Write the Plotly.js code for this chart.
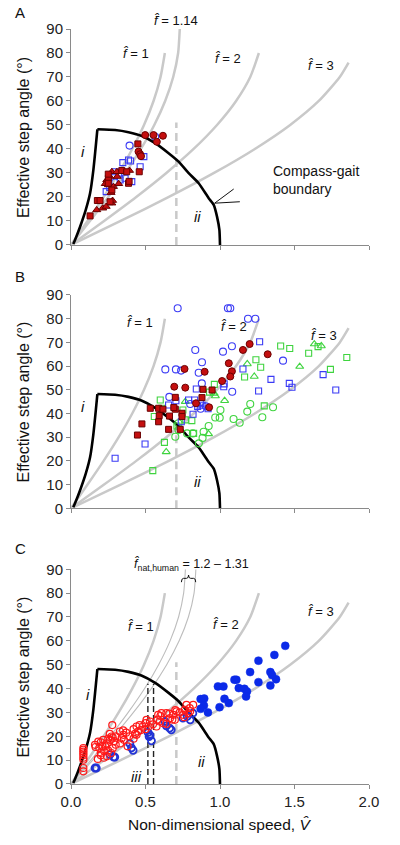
<!DOCTYPE html>
<html><head><meta charset="utf-8">
<script src="https://cdn.plot.ly/plotly-3.0.1.min.js"></script>
<style>html,body{margin:0;padding:0;background:#fff}#chart{width:400px;height:845px}</style>
</head><body><div id="chart"></div>
<script>
// ---- reference curves ----
const ang80 = [0,10,20,30,40,50,60,70,80];
const ang90 = [0,10,20,30,40,50,60,70,80,90];
const ang76 = [0,10,20,30,40,50,60,70,76];
const f1V   = [0,0.111,0.219,0.32,0.411,0.49,0.554,0.601,0.630];
const f114V = [0,0.127,0.250,0.365,0.469,0.559,0.632,0.686,0.719,0.730];
const f12V  = [0,0.133,0.263,0.384,0.494,0.588,0.665,0.722,0.756,0.768];
const f131V = [0,0.146,0.287,0.419,0.539,0.642,0.726,0.788,0.826,0.838];
const f2V   = [0,0.222,0.438,0.64,0.823,0.980,1.108,1.203,1.261];
const f3V   = [0,0.333,0.657,0.96,1.234,1.471,1.663,1.804,1.863];
// boundary i (left branch) and ii (compass-gait arc)
const boundIV = [0.015,0.027,0.061,0.099,0.128,0.150,0.166,0.177];
const boundIT = [0.4,2.1,7.6,14.6,21.5,31.2,41.0,48.2];
const boundIIV = [0.177,0.296,0.386,0.476,0.565,0.655,0.722,0.790,0.857,0.924,0.958,0.980,0.996,1.0];
const boundIIT = [48.2,47.9,47.0,45.4,42.4,38.2,34.7,29.9,25.7,19.5,16.7,11.8,6.25,0];
const dashV = [0.707,0.707];
const dashA = [0,51];
const dashB = [0,36];
const dashC = [0,51];
const blackDash1V = [0.516,0.516];
const blackDash2V = [0.554,0.554];
const blackDashT = [0,42];

// ---- Panel A data ----
const A_redCircleV = [0.498,0.554,0.576,0.617,0.453,0.464,0.470];
const A_redCircleT = [45.8,45.8,43.0,45.5,38.9,37.8,37.0];
const A_redSquareV = [0.449,0.458,0.386,0.390,0.128,0.177,0.195,0.262,0.251,0.250,0.274,0.341,0.374,0.250];
const A_redSquareT = [42.1,30.5,25.7,26.5,12.1,18.5,18.5,18.0,27.8,25.7,22.9,31.0,30.5,29.5];
const A_redTriV = [0.173,0.213,0.236,0.274,0.279,0.274,0.308,0.359,0.393,0.240,0.251,0.285,0.269,0.310,0.320,0.230,0.260];
const A_redTriT = [14.6,15.3,16.0,17.4,18.5,30.5,30.5,30.5,31.0,27.1,25.0,24.3,21.8,28.5,25.5,25.5,28.5];
const A_blueCircleV = [0.393,0.565,0.296];
const A_blueCircleT = [41.4,45.1,26.0];
const A_blueSquareV = [0.348,0.386,0.400,0.489,0.464,0.296,0.330,0.363,0.408,0.236,0.260,0.320];
const A_blueSquareT = [34.3,35.4,35.0,36.8,32.6,30.5,27.1,27.8,26.4,22.2,24.0,30.0];

// ---- Panel B data ----
const B_redCircleV = [0.762,0.897,0.693,0.767,1.014,1.059,1.080,1.069,1.154,1.199,1.320,0.839,0.927];
const B_redCircleT = [58.8,57.6,51.3,50.9,53.7,61.2,57.8,55.6,66.8,69.3,65.0,44.3,42.6];
const B_redSquareV = [0.532,0.588,0.617,0.592,0.588,0.476,0.446,0.661,0.700,0.655,0.733,0.700,0.745,0.879,0.886,0.947,0.690,0.745];
const B_redSquareT = [42.2,42.2,41.8,39.1,36.5,35.6,30.9,38.9,41.8,33.3,33.3,46.8,40.1,46.7,50.2,49.9,42.5,38.7];
const B_blueCircleV = [0.716,1.053,1.069,1.188,1.237,0.834,0.879,1.020,1.080,0.633,0.704,0.739,0.857,1.423,1.082,0.878,0.660,0.905,0.870,0.800];
const B_blueCircleT = [84.4,84.4,84.4,80.0,80.0,66.8,61.6,66.1,68.4,58.6,58.6,58.1,57.2,62.3,49.2,52.7,47.0,43.0,42.0,44.0];
const B_blueSquareV = [0.296,0.497,0.819,0.789,0.830,0.841,0.868,0.850,0.880,0.704,0.655,1.025,1.028,1.154,1.266,1.259,1.342,1.465,1.483,1.692,1.777,0.740,0.920];
const B_blueSquareT = [21.1,27.1,39.7,45.7,45.7,50.3,44.3,43.0,43.5,45.4,43.6,51.3,52.5,58.8,70.3,49.5,54.4,52.7,51.1,56.4,49.9,36.5,42.0];
const B_greenSquareV = [0.549,0.627,0.559,0.599,0.610,0.711,0.767,0.823,0.962,0.751,1.165,1.241,1.273,1.407,1.468,1.595,1.658,1.741,1.851,1.297,0.811,0.930];
const B_greenSquareT = [15.9,27.8,38.7,45.7,42.2,34.7,37.3,31.6,52.3,41.5,55.4,62.7,59.5,68.5,67.4,65.4,68.2,58.6,63.6,43.2,37.0,49.0];
const B_greenCircleV = [0.700,0.722,0.779,0.818,0.858,0.890,0.924,0.998,1.003,1.091,1.132,1.183,1.203,1.284,1.356,0.883,0.968,0.721];
const B_greenCircleT = [30.2,33.0,31.6,31.6,27.4,32.3,34.7,38.2,41.5,37.7,36.1,40.8,44.0,38.4,42.6,29.7,38.3,35.9];
const B_greenTriV = [0.639,0.923,1.031,1.183,1.230,1.535,1.633,1.680,0.767,0.969,0.960];
const B_greenTriT = [23.8,31.4,45.4,60.9,55.6,59.8,69.3,68.5,45.0,47.4,48.5];

// ---- Panel C data ----
const C_redCircleV = [0.083,0.083,0.083,0.083,0.083,0.083,0.083,0.083,0.083,
  0.161,0.183,0.216,0.190,0.230,0.250,0.241,0.220,0.261,0.272,0.277,0.280,0.328,0.351,0.340,0.355,0.330,0.380,
  0.440,0.460,0.470,0.450,0.440,0.500,0.507,0.530,0.520,0.585,0.607,0.640,0.596,0.620,0.574,0.664,0.686,0.708,
  0.697,0.775,0.764,0.797,0.820,0.753,0.786,0.200,0.210,0.240,0.250,0.290,0.300,0.300,0.270,0.200,0.180,0.350,
  0.370,0.390,0.420,0.420,0.480,0.550,0.580,0.600,0.660,0.700,0.730,0.760,0.800,0.640,0.680,0.500,0.430,0.200,
  0.220,0.165,0.280,0.260];
const C_redCircleT = [10.2,11.0,12.0,12.8,13.6,14.4,15.1,6.7,5.3,
  16.4,17.8,18.5,15.1,15.8,14.0,11.6,11.0,18.5,19.9,24.7,15.0,22.0,20.6,19.2,18.5,17.0,15.8,
  24.1,24.7,22.6,22.0,20.6,25.5,26.9,26.2,24.1,29.0,29.7,29.7,26.2,25.5,24.1,27.6,29.0,30.4,
  26.9,33.2,31.1,31.8,33.2,29.0,29.7,13.0,16.0,17.0,19.0,18.0,20.0,16.5,13.0,12.0,10.5,22.5,
  21.5,20.0,19.0,23.0,24.0,25.0,27.0,28.5,29.5,31.0,30.0,28.0,30.5,25.2,27.0,23.0,21.0,17.5,
  14.0,15.5,19.5,21.0];
const C_blueOpenV = [0.161,0.170,0.261,0.286,0.294,0.395,0.406,0.417,0.517,0.524,0.540,0.530,0.631,0.640,0.662,0.673,0.751,0.780,0.800,0.818];
const C_blueOpenT = [6.7,6.7,12.3,11.3,11.3,16.9,15.1,14.1,21.6,19.9,18.1,20.5,26.2,24.4,23.4,22.7,27.6,28.3,26.9,29.7];
const C_blueFillV = [1.438,1.365,1.258,1.202,1.110,1.097,0.986,1.023,1.338,1.376,1.338,1.349,1.258,1.126,1.164,1.181,1.175,1.030,1.059,0.997,0.919,0.870,0.894,0.892,0.870];
const C_blueFillT = [57.9,54.1,51.7,46.9,43.7,43.7,40.9,40.9,41.3,43.9,46.9,45.7,42.7,40.2,39.9,38.8,36.7,35.7,33.9,32.2,30.0,35.6,35.8,32.9,31.5];

const xTickVals = [0,0.5,1.0,1.5,2.0];
const xTickText = ['0.0','0.5','1.0','1.5','2.0'];

// ---- styles ----
const GRAY = '#c9c9c9';
const FONT = 'Liberation Sans, Arial, sans-serif';
const RED_FILL = {color:'#c40f0f', line:{color:'#6a0000', width:1}};
const BLUE_OPEN = {color:'#3b3bf5', line:{color:'#3b3bf5', width:1.1}};
const GREEN_OPEN = {color:'#3fd43f', line:{color:'#3fd43f', width:1.1}};

const traces = [];
function ax(p){ return p===1 ? '' : String(p); }
function line(xs, ys, p, color, width, smooth){
  traces.push({type:'scatter', mode:'lines', x:xs, y:ys, xaxis:'x'+ax(p), yaxis:'y'+ax(p),
    line:{color:color, width:width, shape:'spline', smoothing:smooth||0.6},
    showlegend:false, hoverinfo:'skip', cliponaxis:false});
}
function pts(xs, ys, p, symbol, size, base){
  traces.push({type:'scatter', mode:'markers', x:xs, y:ys, xaxis:'x'+ax(p), yaxis:'y'+ax(p),
    marker:Object.assign({symbol:symbol, size:size}, base),
    showlegend:false, hoverinfo:'skip', cliponaxis:false});
}
function straight(xs, ys, p, color, width, dash){
  traces.push({type:'scatter', mode:'lines', x:xs, y:ys, xaxis:'x'+ax(p), yaxis:'y'+ax(p),
    line:{color:color, width:width, dash:dash||'solid'}, showlegend:false, hoverinfo:'skip', cliponaxis:false});
}

[1,2,3].forEach(p=>{
  line(f1V, ang80, p, GRAY, 2.5);
  line(f2V, ang80, p, GRAY, 2.5);
  line(f3V, ang76, p, GRAY, 2.5);
});
line(f114V, ang90, 1, GRAY, 2.5);
line(f12V, ang90, 3, '#bdbdbd', 1.1);
line(f131V, ang90, 3, '#bdbdbd', 1.1);
straight(dashV, dashA, 1, GRAY, 2.5, '8px,5px');
straight(dashV, dashB, 2, GRAY, 2.5, '8px,5px');
straight(dashV, dashC, 3, GRAY, 2.5, '8px,5px');
straight(blackDash1V, blackDashT, 3, '#222', 1.4, '6px,3px');
straight(blackDash2V, blackDashT, 3, '#222', 1.4, '6px,3px');
[1,2,3].forEach(p=>{
  line(boundIV, boundIT, p, '#000', 2.6, 0.5);
  line(boundIIV, boundIIT, p, '#000', 2.6, 0.5);
});

// Panel A points
pts(A_blueSquareV, A_blueSquareT, 1, 'square-open', 6, BLUE_OPEN);
pts(A_blueCircleV, A_blueCircleT, 1, 'circle-open', 7, BLUE_OPEN);
pts(A_redTriV, A_redTriT, 1, 'triangle-up', 7, RED_FILL);
pts(A_redSquareV, A_redSquareT, 1, 'square', 6, RED_FILL);
pts(A_redCircleV, A_redCircleT, 1, 'circle', 7, RED_FILL);
// Panel B points
pts(B_greenCircleV, B_greenCircleT, 2, 'circle-open', 7, GREEN_OPEN);
pts(B_greenSquareV, B_greenSquareT, 2, 'square-open', 6, GREEN_OPEN);
pts(B_greenTriV, B_greenTriT, 2, 'triangle-up-open', 7, GREEN_OPEN);
pts(B_blueCircleV, B_blueCircleT, 2, 'circle-open', 7, BLUE_OPEN);
pts(B_blueSquareV, B_blueSquareT, 2, 'square-open', 6, BLUE_OPEN);
pts(B_redSquareV, B_redSquareT, 2, 'square', 6, RED_FILL);
pts(B_redCircleV, B_redCircleT, 2, 'circle', 7, RED_FILL);
// Panel C points
pts(C_blueFillV, C_blueFillT, 3, 'circle', 8, {color:'#0b2ae8', line:{color:'#0b2ae8', width:0.5}});
pts(C_blueOpenV, C_blueOpenT, 3, 'circle-open', 7, {color:'#2233d6', line:{color:'#2233d6', width:1.8}});
pts(C_redCircleV, C_redCircleT, 3, 'circle-open', 7, {color:'#ff1a1a', line:{color:'#ff1a1a', width:1.2}});

const yA = [0.714,1], yB = [0.3652,0.6477], yC = [0,0.2844];
function xAxis(anchor, labels){
  return {domain:[0,1], anchor:anchor, range:[0,2], tickvals:xTickVals, ticktext:xTickText,
    showticklabels:labels, ticks:'outside', ticklen:4, tickcolor:'#8a8a8a', showline:true, linecolor:'#8a8a8a',
    linewidth:1, showgrid:false, zeroline:false, tickfont:{family:FONT, size:15, color:'#222'}, fixedrange:true};
}
function yAxis(anchor, dom){
  return {domain:dom, anchor:anchor, range:[0,90], dtick:10, tick0:0, ticks:'outside', ticklen:4,
    tickcolor:'#8a8a8a', showline:true, linecolor:'#8a8a8a', linewidth:1, showgrid:false, zeroline:false,
    tickfont:{family:FONT, size:15, color:'#222'}, fixedrange:true};
}

const TF = {family:FONT, size:13, color:'#111'};
const IF = {family:FONT, size:15, color:'#111'};
function ann(text, x, y, p, extra){
  return Object.assign({text:text, x:x, y:y, xref:'x'+ax(p), yref:'y'+ax(p), showarrow:false,
    xanchor:'center', yanchor:'middle', font:TF}, extra||{});
}
// annotation placed above the axis range: use the y-domain reference (fraction of 90)
function annTop(text, x, yVal, p, extra){
  return Object.assign({text:text, x:x, y:yVal/90, xref:'x'+ax(p), yref:'y'+ax(p)+' domain', showarrow:false,
    xanchor:'center', yanchor:'middle', font:TF}, extra||{});
}
function paperText(text, x, y, extra){
  return Object.assign({text:text, x:x, y:y, xref:'paper', yref:'paper', showarrow:false,
    xanchor:'center', yanchor:'middle', font:{family:FONT,size:15,color:'#111'}}, extra||{});
}
const fh = '<i>f\u0302</i>';
const YT = 'Effective step angle (°)';
const annotations = [
  paperText('A', -0.196, 1.0225, {xanchor:'left'}),
  paperText('B', -0.196, 0.672, {xanchor:'left'}),
  paperText('C', -0.196, 0.312, {xanchor:'left'}),
  paperText(YT, -0.158, (yA[0]+yA[1])/2, {textangle:-90, font:{family:FONT,size:16,color:'#111'}}),
  paperText(YT, -0.158, (yB[0]+yB[1])/2, {textangle:-90, font:{family:FONT,size:16,color:'#111'}}),
  paperText(YT, -0.158, (yC[0]+yC[1])/2, {textangle:-90, font:{family:FONT,size:16,color:'#111'}}),
  paperText('Non-dimensional speed, <i>V\u0302</i>', 0.497, -0.054, {font:{family:FONT,size:15.5,color:'#111'}}),
  // panel A
  annTop('<i>f\u0302\u0304</i> = 1.14', 0.707, 93.5, 1),
  ann(fh+' = 1', 0.434, 79.9, 1),
  ann(fh+' = 2', 1.057, 77.8, 1),
  ann(fh+' = 3', 1.676, 74.7, 1),
  ann('<i>i</i>', 0.083, 38.9, 1, {font:IF}),
  ann('<i>ii</i>', 0.846, 11.8, 1, {font:IF}),
  ann('Compass-gait<br>boundary', 1.344, 27, 1, {xanchor:'left', align:'left', font:{family:FONT,size:14,color:'#111'}}),
  // panel B
  ann(fh+' = 1', 0.465, 78.2, 2),
  ann(fh+' = 2', 1.097, 76.6, 2),
  ann(fh+' = 3', 1.696, 73.0, 2),
  ann('<i>i</i>', 0.079, 42.9, 2, {font:IF}),
  ann('<i>ii</i>', 0.846, 11.2, 2, {font:IF}),
  // panel C
  annTop(fh+'<sub>nat,human</sub> = 1.2 \u2013 1.31', 0.81, 92, 3, {font:{family:FONT,size:12.5,color:'#111'}}),
  ann(fh+' = 1', 0.47, 66, 3),
  ann(fh+' = 2', 1.04, 66.7, 3),
  ann(fh+' = 3', 1.68, 72.3, 3),
  ann('<i>i</i>', 0.116, 37.4, 3, {font:IF}),
  ann('<i>ii</i>', 0.875, 9.5, 3, {font:IF}),
  ann('<i>iii</i>', 0.44, 3.2, 3, {font:IF})
];

const shapes = [
  {type:'line', xref:'x', yref:'y', x0:1.092, y0:23.3, x1:0.964, y1:17.4, line:{color:'#111', width:1}},
  {type:'line', xref:'x', yref:'y', x0:1.133, y0:18.0, x1:0.964, y1:17.4, line:{color:'#111', width:1}},
  {type:'path', xref:'x3', yref:'y3', line:{color:'#111', width:1},
   path:'M0.741,84.6 Q0.741,86.2 0.755,86.2 L0.775,86.2 Q0.789,86.2 0.789,87.6 Q0.789,86.2 0.803,86.2 L0.823,86.2 Q0.837,86.2 0.837,84.6'}
];

const layout = {
  width:400, height:845, margin:{l:71, r:31, t:29, b:61}, paper_bgcolor:'#fff', plot_bgcolor:'rgba(0,0,0,0)',
  showlegend:false, font:{family:FONT, color:'#111'},
  xaxis:xAxis('y', false), yaxis:yAxis('x', yA),
  xaxis2:xAxis('y2', false), yaxis2:yAxis('x2', yB),
  xaxis3:xAxis('y3', true), yaxis3:yAxis('x3', yC),
  annotations:annotations, shapes:shapes
};
Plotly.newPlot('chart', traces, layout, {displayModeBar:false, staticPlot:true});
</script></body></html>
